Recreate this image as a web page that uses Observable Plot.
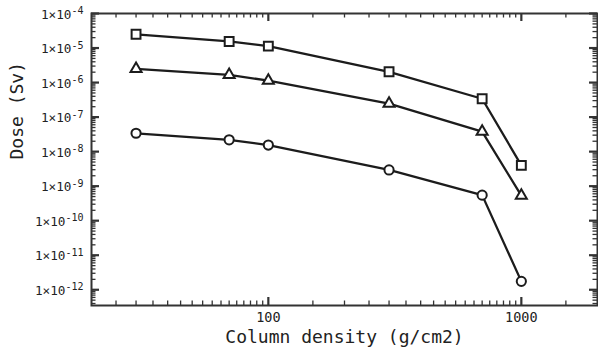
<!DOCTYPE html>
<html>
<head>
<meta charset="utf-8">
<script src="https://cdn.jsdelivr.net/npm/d3@7"></script>
<script src="https://cdn.jsdelivr.net/npm/@observablehq/plot@0.6"></script>
<style>
  html, body { margin: 0; padding: 0; background: #fff; }
</style>
</head>
<body>
<div id="chart"></div>
<script>
// ---- data ----
const columnDensity = [30, 70, 100, 300, 700, 1000];
const doseSquare   = [2.5e-5, 1.55e-5, 1.14e-5, 2.05e-6, 3.4e-7, 4.0e-9];
const doseTriangle = [2.5e-6, 1.67e-6, 1.14e-6, 2.45e-7, 3.8e-8, 5.3e-10];
const doseCircle   = [3.4e-8, 2.2e-8, 1.55e-8, 2.95e-9, 5.5e-10, 1.75e-12];

const xMajorTicks = [100, 1000];
const xMinorTicks = [25,30,35,40,45,50,55,60,65,70,75,80,85,90,95,
                     150,200,250,300,350,400,450,500,550,600,650,700,750,800,850,900,950,1500];
const yMajorExponents = [-12, -11, -10, -9, -8, -7, -6, -5, -4];
const yMinorMultipliers = [2, 3, 4, 5, 6, 7, 8, 9];

const xLabel = "Column density (g/cm2)";
const yLabel = "Dose (Sv)";

// ---- layout ----
const W = 598, H = 351, mL = 91, mR = 1, mT = 13, mB = 46;
const innerW = W - mL - mR, innerH = H - mT - mB;
const yDomain = [3.5e-13, 1e-4];
const xDomain = [20, 2000];
const ink = "#1c1c1c";
const font = "DejaVu Sans Mono";

const yMajor = yMajorExponents.map(e => Math.pow(10, e));
const yMinor = [];
for (let e = -13; e <= -5; e++) for (const m of yMinorMultipliers) {
  const v = m * Math.pow(10, e);
  if (v > yDomain[0] && v < yDomain[1]) yMinor.push(v);
}

const rows = (ys) => columnDensity.map((x, i) => ({x, y: ys[i]}));
const sq = rows(doseSquare), tr = rows(doseTriangle), ci = rows(doseCircle);

const majLen = 8, minLen = 4.5;

const chart = Plot.plot({
  width: W, height: H,
  marginLeft: mL, marginRight: mR, marginTop: mT, marginBottom: mB,
  style: {fontFamily: font, background: "#fff", overflow: "visible"},
  x: {type: "log", domain: xDomain, axis: null},
  y: {type: "log", domain: yDomain, axis: null},
  marks: [
    // ticks (inward, mirrored)
    Plot.tickX(xMinorTicks, {x: d => d, insetTop: innerH - minLen, stroke: "#333", strokeWidth: 1.3}),
    Plot.tickX(xMinorTicks, {x: d => d, insetBottom: innerH - minLen, stroke: "#333", strokeWidth: 1.3}),
    Plot.tickX(xMajorTicks, {x: d => d, insetTop: innerH - majLen, stroke: "#333", strokeWidth: 2.2}),
    Plot.tickX(xMajorTicks, {x: d => d, insetBottom: innerH - majLen, stroke: "#333", strokeWidth: 2.2}),
    Plot.tickY(yMinor, {y: d => d, insetRight: innerW - minLen, stroke: "#333", strokeWidth: 1.3}),
    Plot.tickY(yMinor, {y: d => d, insetLeft: innerW - minLen, stroke: "#333", strokeWidth: 1.3}),
    Plot.tickY(yMajor, {y: d => d, insetRight: innerW - majLen, stroke: "#333", strokeWidth: 2.2}),
    Plot.tickY(yMajor, {y: d => d, insetLeft: innerW - majLen, stroke: "#333", strokeWidth: 2.2}),
    Plot.frame({stroke: "#333", strokeWidth: 2}),
    // tick labels
    Plot.text(xMajorTicks, {x: d => d, frameAnchor: "bottom", dy: 12, text: d => String(d),
      fontSize: "13.5px", fill: "#222", lineAnchor: "middle"}),
    Plot.text(yMajorExponents, {y: d => Math.pow(10, d), frameAnchor: "left", dx: -8, dy: 1, textAnchor: "end",
      text: d => "1×10^" + d, fontSize: "12.7px", fill: "#222", lineAnchor: "middle"}),
    // axis titles
    Plot.text([xLabel], {frameAnchor: "bottom", dy: 32, text: d => d, fontSize: "18px", fill: "#222", lineAnchor: "middle"}),
    Plot.text([yLabel], {frameAnchor: "left", dx: -74, rotate: -90, text: d => d, fontSize: "18px", fill: "#222", lineAnchor: "middle"}),
    // series
    Plot.line(sq, {x: "x", y: "y", stroke: ink, strokeWidth: 2.3}),
    Plot.line(tr, {x: "x", y: "y", stroke: ink, strokeWidth: 2.3}),
    Plot.line(ci, {x: "x", y: "y", stroke: ink, strokeWidth: 2.3}),
    Plot.dot(sq, {x: "x", y: "y", symbol: "square", r: 5, fill: "#fff", stroke: ink, strokeWidth: 2}),
    Plot.dot(tr, {x: "x", y: "y", symbol: "triangle", r: 4.1, fill: "#fff", stroke: ink, strokeWidth: 2}),
    Plot.dot(ci, {x: "x", y: "y", symbol: "circle", r: 4.6, fill: "#fff", stroke: ink, strokeWidth: 2})
  ]
});

// superscript exponents on y tick labels
d3.select(chart).selectAll("text").each(function() {
  const t = this.textContent;
  if (t.includes("^")) {
    const [base, exp] = t.split("^");
    const sel = d3.select(this);
    sel.text(null);
    sel.append("tspan").text(base);
    sel.append("tspan").attr("dy", "-0.45em").style("font-size", "10px").text(exp);
  }
});

document.getElementById("chart").appendChild(chart);
</script>
</body>
</html>
